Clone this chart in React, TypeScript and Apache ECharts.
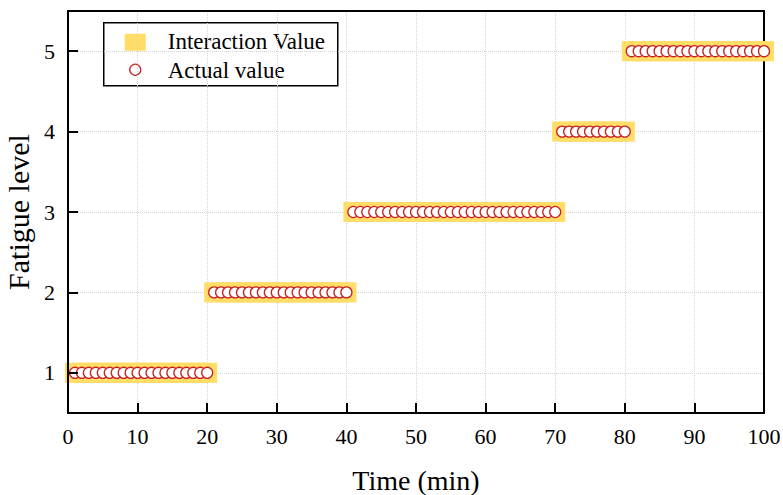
import React, { useEffect, useRef } from "react";
import * as echarts from "echarts";

const timeMinutes = [
  1, 2, 3, 4, 5, 6, 7, 8, 9, 10, 11, 12, 13, 14, 15, 16, 17, 18, 19, 20,
  21, 22, 23, 24, 25, 26, 27, 28, 29, 30, 31, 32, 33, 34, 35, 36, 37, 38, 39, 40,
  41, 42, 43, 44, 45, 46, 47, 48, 49, 50, 51, 52, 53, 54, 55, 56, 57, 58, 59, 60,
  61, 62, 63, 64, 65, 66, 67, 68, 69, 70,
  71, 72, 73, 74, 75, 76, 77, 78, 79, 80,
  81, 82, 83, 84, 85, 86, 87, 88, 89, 90, 91, 92, 93, 94, 95, 96, 97, 98, 99, 100,
];

const interactionValue = [
  1, 1, 1, 1, 1, 1, 1, 1, 1, 1, 1, 1, 1, 1, 1, 1, 1, 1, 1, 1,
  2, 2, 2, 2, 2, 2, 2, 2, 2, 2, 2, 2, 2, 2, 2, 2, 2, 2, 2, 2,
  3, 3, 3, 3, 3, 3, 3, 3, 3, 3, 3, 3, 3, 3, 3, 3, 3, 3, 3, 3,
  3, 3, 3, 3, 3, 3, 3, 3, 3, 3,
  4, 4, 4, 4, 4, 4, 4, 4, 4, 4,
  5, 5, 5, 5, 5, 5, 5, 5, 5, 5, 5, 5, 5, 5, 5, 5, 5, 5, 5, 5,
];

const actualValue = [
  1, 1, 1, 1, 1, 1, 1, 1, 1, 1, 1, 1, 1, 1, 1, 1, 1, 1, 1, 1,
  2, 2, 2, 2, 2, 2, 2, 2, 2, 2, 2, 2, 2, 2, 2, 2, 2, 2, 2, 2,
  3, 3, 3, 3, 3, 3, 3, 3, 3, 3, 3, 3, 3, 3, 3, 3, 3, 3, 3, 3,
  3, 3, 3, 3, 3, 3, 3, 3, 3, 3,
  4, 4, 4, 4, 4, 4, 4, 4, 4, 4,
  5, 5, 5, 5, 5, 5, 5, 5, 5, 5, 5, 5, 5, 5, 5, 5, 5, 5, 5, 5,
];

const xTickValues = [10, 20, 30, 40, 50, 60, 70, 80, 90];
const yTickValues = [1, 2, 3, 4, 5];
const seriesNames = ["Interaction Value", "Actual value"];

const X_MIN = 0;
const X_MAX = 100;
const Y_MIN = 0.5;
const Y_MAX = 5.5;

const FONT = "'Liberation Serif', 'Times New Roman', serif";
const YELLOW = "#FFDD66";
const RED = "#C82222";
const GRID_LINE = { show: true, lineStyle: { color: "#d4d4d4", type: "dotted", width: 1 } };
const FRAME_LINE = { show: true, onZero: false, lineStyle: { color: "#000", width: 2 } };

const GRID = { left: 68, right: 19, top: 11, bottom: 82 };
const CHART_W = 783;
const CHART_H = 495;
const TICK_PX = 10;

export default function App() {
  const ref = useRef<HTMLDivElement>(null);

  useEffect(() => {
    document.body.style.margin = "0";
    if (!ref.current) return;
    const chart = echarts.init(ref.current, undefined, { renderer: "svg" });

    // tick lengths expressed in data units of the perpendicular axis
    const plotW = CHART_W - GRID.left - GRID.right;
    const plotH = CHART_H - GRID.top - GRID.bottom;
    const xTickLen = (TICK_PX / plotH) * (Y_MAX - Y_MIN);
    const yTickLen = (TICK_PX / plotW) * (X_MAX - X_MIN);

    const tickLines = [
      ...xTickValues.map((v) => [{ coord: [v, Y_MIN] }, { coord: [v, Y_MIN + xTickLen] }]),
      ...yTickValues.map((v) => [{ coord: [X_MIN, v] }, { coord: [X_MIN + yTickLen, v] }]),
    ];

    const option: any = {
      animation: false,
      backgroundColor: "#ffffff",
      grid: {
        ...GRID,
        outerBoundsMode: "none",
        containLabel: false,
        show: false,
      },
      xAxis: [
        {
          type: "value",
          min: X_MIN,
          max: X_MAX,
          interval: 10,
          position: "bottom",
          z: 5,
          name: "Time (min)",
          nameLocation: "middle",
          nameGap: 53,
          nameTextStyle: { fontFamily: FONT, fontSize: 28, color: "#000" },
          axisLine: FRAME_LINE,
          axisTick: { show: false },
          axisLabel: { fontFamily: FONT, fontSize: 22, color: "#000", margin: 12 },
          splitLine: { show: false },
        },
        {
          type: "value",
          min: X_MIN,
          max: X_MAX,
          interval: 10,
          position: "top",
          z: 0,
          axisLine: FRAME_LINE,
          axisTick: { show: false },
          axisLabel: { show: false },
          splitLine: GRID_LINE,
        },
      ],
      yAxis: [
        {
          type: "value",
          min: Y_MIN,
          max: Y_MAX,
          position: "left",
          z: 5,
          name: "Fatigue level",
          nameLocation: "middle",
          nameGap: 32,
          nameTextStyle: { fontFamily: FONT, fontSize: 30, color: "#000" },
          axisLine: FRAME_LINE,
          axisTick: { show: false, customValues: yTickValues },
          axisLabel: {
            fontFamily: FONT,
            fontSize: 22,
            color: "#000",
            margin: 13,
            customValues: yTickValues,
          },
          splitLine: { show: false },
        },
        {
          type: "value",
          min: Y_MIN,
          max: Y_MAX,
          position: "right",
          z: 0,
          axisLine: FRAME_LINE,
          axisTick: { show: false, customValues: yTickValues },
          axisLabel: { show: false, customValues: yTickValues },
          splitLine: GRID_LINE,
        },
      ],
      series: [
        {
          name: seriesNames[0],
          type: "scatter",
          symbol: "rect",
          symbolSize: 20,
          clip: true,
          xAxisIndex: 0,
          yAxisIndex: 0,
          itemStyle: { color: YELLOW, opacity: 1 },
          data: timeMinutes.map((t, i) => [t, interactionValue[i]]),
          z: 2,
          markLine: {
            silent: true,
            symbol: ["none", "none"],
            label: { show: false },
            lineStyle: { color: "#000", width: 2, type: "solid" },
            emphasis: { disabled: true },
            data: tickLines,
          },
        },
        {
          name: seriesNames[1],
          type: "scatter",
          symbol: "circle",
          symbolSize: 11,
          clip: true,
          xAxisIndex: 0,
          yAxisIndex: 0,
          itemStyle: { color: "#ffffff", borderColor: RED, borderWidth: 1.3, opacity: 1 },
          data: timeMinutes.map((t, i) => [t, actualValue[i]]),
          z: 3,
        },
      ],
      graphic: [
        {
          type: "group",
          left: 103,
          top: 22,
          z: 100,
          children: [
            {
              type: "rect",
              shape: { x: 0, y: 0, width: 234, height: 63 },
              style: { fill: "#ffffff", stroke: "#000", lineWidth: 1.5 },
            },
            {
              type: "rect",
              shape: { x: 21, y: 11, width: 21, height: 17 },
              style: { fill: YELLOW },
            },
            {
              type: "circle",
              shape: { cx: 31.5, cy: 47, r: 5.5 },
              style: { fill: "#ffffff", stroke: RED, lineWidth: 1.3 },
            },
            {
              type: "text",
              x: 64,
              y: 19,
              style: {
                text: seriesNames[0],
                font: `23px ${FONT}`,
                fill: "#000",
                verticalAlign: "middle",
                align: "left",
              },
            },
            {
              type: "text",
              x: 64,
              y: 48,
              style: {
                text: seriesNames[1],
                font: `23px ${FONT}`,
                fill: "#000",
                verticalAlign: "middle",
                align: "left",
              },
            },
          ],
        },
      ],
    };
    chart.setOption(option);
    return () => chart.dispose();
  }, []);

  return (
    <div
      ref={ref}
      style={{ position: "absolute", left: 0, top: 0, width: CHART_W, height: CHART_H }}
    />
  );
}
